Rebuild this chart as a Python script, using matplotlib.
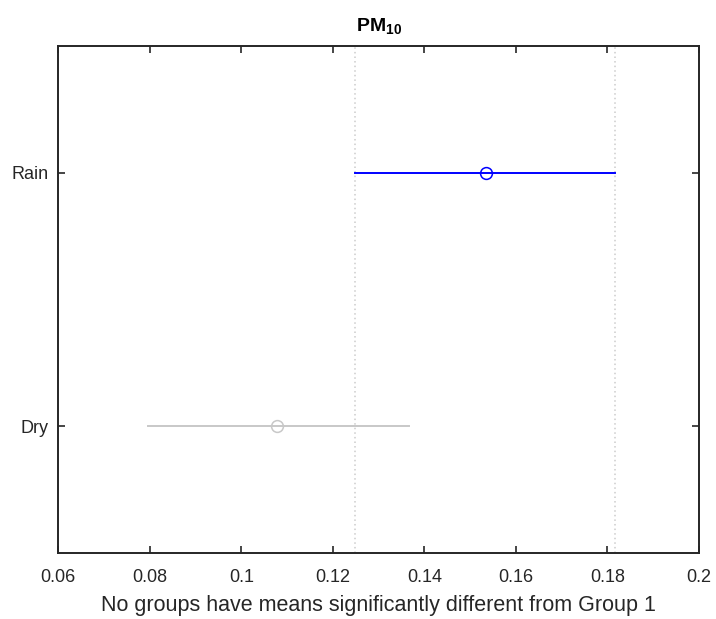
import matplotlib
matplotlib.use("Agg")
import matplotlib.pyplot as plt

groups = ["Dry", "Rain"]
means = [0.1079, 0.1535]
lower = [0.0796, 0.1248]
upper = [0.1366, 0.1817]
colors = ["#c8c8c8", "#0000ff"]
xticks = [0.06, 0.08, 0.1, 0.12, 0.14, 0.16, 0.18, 0.2]
xticklabels = ["0.06", "0.08", "0.1", "0.12", "0.14", "0.16", "0.18", "0.2"]
title = r"$\mathbf{PM_{10}}$"
xlabel = "No groups have means significantly different from Group 1"

plt.rcParams['font.family'] = ['Liberation Sans', 'DejaVu Sans']
plt.rcParams['mathtext.fontset'] = 'custom'
plt.rcParams['mathtext.rm'] = 'Liberation Sans'
plt.rcParams['mathtext.bf'] = 'Liberation Sans:bold'

fig = plt.figure(figsize=(7.16, 6.19), dpi=100)
ax = fig.add_axes([0.0814, 0.1071, 0.8948, 0.8186])

sel = 1  # Rain group is selected
ax.axvline(lower[sel], color="#cccccc", linestyle=(0, (1, 2)), linewidth=1.1, zorder=1)
ax.axvline(upper[sel], color="#cccccc", linestyle=(0, (1, 2)), linewidth=1.1, zorder=1)

for i, g in enumerate(groups):
    y = i + 1
    ax.plot([lower[i], upper[i]], [y, y], color=colors[i], linewidth=1.4, zorder=2)
    ax.plot([means[i]], [y], marker="o", markersize=8.5, markerfacecolor="none",
            markeredgecolor=colors[i], markeredgewidth=1.1, linestyle="none", zorder=3)

ax.set_xlim(0.06, 0.2)
ax.set_ylim(0.5, 2.5)
ax.set_xticks(xticks)
ax.set_xticklabels(xticklabels)
ax.set_yticks([1, 2])
ax.set_yticklabels(groups)
ax.tick_params(direction="in", top=True, right=True, length=5, width=1.2,
               labelsize=13, colors="#262626")
ax.tick_params(axis="x", pad=12)
ax.tick_params(axis="y", pad=7)
for s in ax.spines.values():
    s.set_linewidth(1.4)
    s.set_color("#262626")
ax.set_xlabel(xlabel, fontsize=15.5, color="#262626", labelpad=6)
ax.set_title(title, fontsize=14, color="#000000", pad=11)

fig.savefig("out.png", dpi=100)
